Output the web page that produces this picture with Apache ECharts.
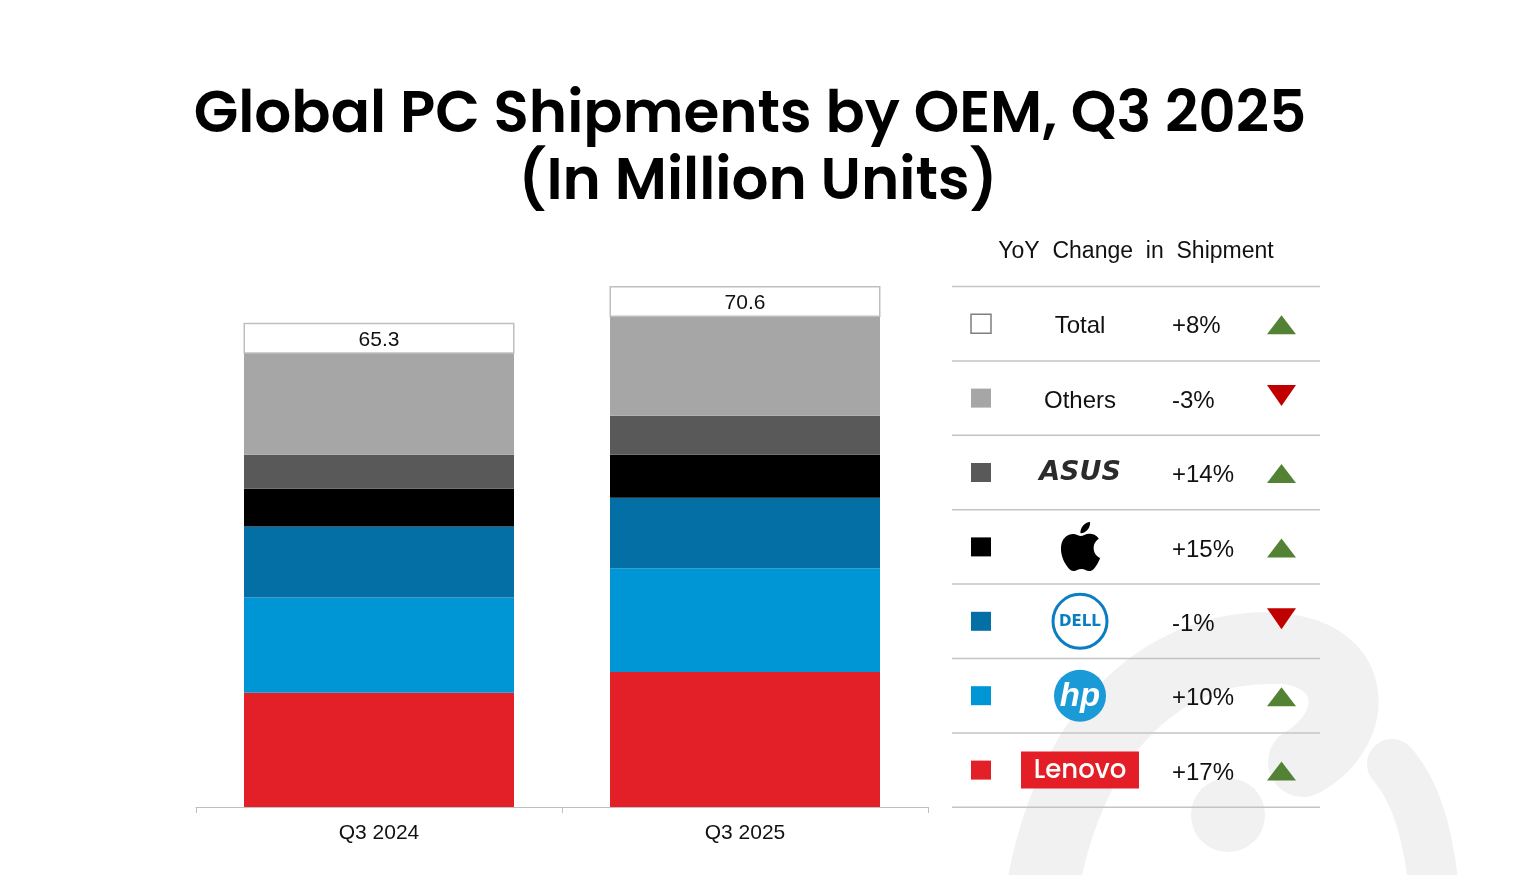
<!DOCTYPE html>
<html>
<head>
<meta charset="utf-8">
<title>Global PC Shipments by OEM, Q3 2025</title>
<script src="https://cdn.jsdelivr.net/npm/echarts@6/dist/echarts.min.js"></script>
<style>
  html, body { margin: 0; padding: 0; background: #fff; }
  #main { width: 1534px; height: 875px; }
</style>
</head>
<body>
<div id="main"></div>
<script>
// quarters on the x axis
var quarters = ['Q3 2024', 'Q3 2025'];
// shipments in million units, bottom of the stack first
var lenovo = [16.4, 19.4];
var hp = [13.7, 14.9];
var dell = [10.2, 10.1];
var apple = [5.4, 6.2];
var asus = [4.9, 5.6];
var others = [14.7, 14.4];
var totals = [65.3, 70.6];
// yoy table, top row first
var yoyNames = ['Total', 'Others', 'ASUS', 'Apple', 'Dell', 'HP', 'Lenovo'];
var yoyChange = [8, -3, 14, 15, -1, 10, 17];

var colors = {
  Lenovo: '#e32028',
  HP: '#0096d6',
  Dell: '#046fa5',
  Apple: '#000000',
  ASUS: '#595959',
  Others: '#a6a6a6',
  Total: '#ffffff'
};

var myChart = echarts.init(document.getElementById('main'));
var font = '"Liberation Sans", Arial, sans-serif';
var titleFont = 'Poppins, Inter, "Open Sans", sans-serif';

// apple logo outline (24x24 box), registered so the graphic component can use it
var applePath = 'M12.152 6.896c-.948 0-2.415-1.078-3.96-1.04-2.04.027-3.910 1.183-4.961 3.014-2.117 3.675-.546 9.103 1.519 12.09 1.013 1.454 2.208 3.09 3.792 3.039 1.52-.065 2.09-.987 3.935-.987 1.831 0 2.35.987 3.96.948 1.637-.026 2.676-1.48 3.676-2.948 1.156-1.688 1.636-3.325 1.662-3.415-.039-.013-3.182-1.221-3.22-4.857-.026-3.04 2.48-4.494 2.597-4.559-1.429-2.09-3.623-2.324-4.39-2.376-2-.156-3.675 1.09-4.61 1.09zM15.53 3.830c.843-1.012 1.4-2.427 1.245-3.83-1.207.052-2.662.805-3.532 1.818-.78.896-1.454 2.338-1.273 3.714 1.338.104 2.715-.688 3.559-1.701';
var hasApple = false;
try {
  echarts.graphic.registerShape('appleLogo', echarts.graphic.extendPath(applePath, {}));
  hasApple = true;
} catch (err) {
  hasApple = false;
}

function barSeries(name, values, isTop) {
  var s = {
    name: name,
    type: 'bar',
    stack: 'oem',
    barWidth: 270,
    itemStyle: { color: colors[name] },
    emphasis: { disabled: true },
    data: values
  };
  if (isTop) {
    // total box sitting on top of the stack
    s.label = {
      show: true,
      position: 'top',
      distance: 0,
      formatter: function(p) { return totals[p.dataIndex].toFixed(1); },
      width: 268,
      height: 28,
      lineHeight: 25,
      align: 'center',
      padding: 0,
      backgroundColor: '#fff',
      borderColor: '#bfbfbf',
      borderWidth: 1.5,
      color: '#111',
      fontSize: 21,
      fontFamily: font
    };
  }
  return s;
}

// table on the right
var rowTop = 286.5, rowH = 74.4;
var tableLeft = 952, tableRight = 1320;
var graphics = [];

// watermark in the corner
graphics.push({
  type: 'bezierCurve', z: 0, silent: true,
  shape: { x1: 1043, y1: 885, cpx1: 1075, cpy1: 720, cpx2: 1170, cpy2: 645, x2: 1275, y2: 648 },
  style: { fill: null, stroke: '#f1f1f1', lineWidth: 72, lineCap: 'round' }
});
graphics.push({
  type: 'bezierCurve', z: 0, silent: true,
  shape: { x1: 1275, y1: 648, cpx1: 1360, cpy1: 652, cpx2: 1362, cpy2: 728, x2: 1303, y2: 762 },
  style: { fill: null, stroke: '#f1f1f1', lineWidth: 70, lineCap: 'round' }
});
graphics.push({
  type: 'circle', z: 0, silent: true,
  shape: { cx: 1228, cy: 815, r: 37 },
  style: { fill: '#f1f1f1' }
});
graphics.push({
  type: 'bezierCurve', z: 0, silent: true,
  shape: { x1: 1392, y1: 764, cpx1: 1415, cpy1: 790, cpx2: 1428, cpy2: 830, x2: 1434, y2: 890 },
  style: { fill: null, stroke: '#f1f1f1', lineWidth: 50, lineCap: 'round' }
});

graphics.push({
  type: 'text', z: 10,
  style: {
    x: 1136, y: 252, text: 'YoY  Change  in  Shipment',
    align: 'center', verticalAlign: 'middle',
    font: '23px ' + font, fill: '#111'
  }
});

for (var i = 0; i <= yoyNames.length; i++) {
  graphics.push({
    type: 'line', z: 10, silent: true,
    shape: { x1: tableLeft, y1: rowTop + i * rowH, x2: tableRight, y2: rowTop + i * rowH },
    style: { stroke: '#c4c4c4', lineWidth: 1.5 }
  });
}

function logo(name, cx, cy) {
  var out = [];
  if (name === 'Total' || name === 'Others') {
    out.push({ type: 'text', z: 10, style: { x: cx, y: cy + 3, text: name, align: 'center', verticalAlign: 'middle', font: '24px ' + font, fill: '#111' } });
  } else if (name === 'ASUS') {
    out.push({ type: 'text', z: 10, style: { x: cx, y: cy, text: 'ASUS', align: 'center', verticalAlign: 'middle', font: 'italic 900 27px "DejaVu Sans", sans-serif', fill: '#2b2b2b' } });
  } else if (name === 'Apple') {
    if (hasApple) {
      out.push({
        type: 'appleLogo', z: 10,
        x: cx - 23.5, y: cy - 25, scaleX: 2.0, scaleY: 2.05,
        style: { fill: '#000' }
      });
    } else {
      out.push({ type: 'text', z: 10, style: { x: cx, y: cy, text: 'Apple', align: 'center', verticalAlign: 'middle', font: '24px ' + font, fill: '#000' } });
    }
  } else if (name === 'Dell') {
    out.push({ type: 'circle', z: 10, shape: { cx: cx, cy: cy, r: 27 }, style: { fill: '#fff', stroke: '#0a7ec1', lineWidth: 3 } });
    out.push({ type: 'text', z: 11, style: { x: cx, y: cy + 1, text: 'DELL', align: 'center', verticalAlign: 'middle', font: '900 15px "DejaVu Sans", sans-serif', fill: '#0a7ec1' } });
  } else if (name === 'HP') {
    out.push({ type: 'circle', z: 10, shape: { cx: cx, cy: cy, r: 26 }, style: { fill: '#1b9ad8' } });
    out.push({ type: 'text', z: 11, style: { x: cx, y: cy + 1, text: 'hp', align: 'center', verticalAlign: 'middle', font: 'italic 700 33px "Liberation Sans", sans-serif', fill: '#fff' } });
  } else if (name === 'Lenovo') {
    out.push({ type: 'rect', z: 10, shape: { x: cx - 59, y: cy - 18.5, width: 118, height: 37 }, style: { fill: '#e41e26' } });
    out.push({ type: 'text', z: 11, style: { x: cx, y: cy + 1, text: 'Lenovo', align: 'center', verticalAlign: 'middle', font: '500 26px Poppins, Lato, sans-serif', fill: '#fff' } });
  }
  return out;
}

yoyNames.forEach(function(name, i) {
  var cy = rowTop + (i + 0.5) * rowH;
  // swatch
  graphics.push({
    type: 'rect', z: 10,
    shape: { x: 971, y: cy - 9.5, width: 20, height: 19 },
    style: name === 'Total'
      ? { fill: '#fff', stroke: '#7f7f7f', lineWidth: 1.5 }
      : { fill: colors[name] }
  });
  graphics = graphics.concat(logo(name, 1080, cy));
  var v = yoyChange[i];
  graphics.push({
    type: 'text', z: 10,
    style: {
      x: 1172, y: cy + 3, text: (v > 0 ? '+' : '') + v + '%',
      align: 'left', verticalAlign: 'middle', font: '24px ' + font, fill: '#111'
    }
  });
  // up / down arrow
  var up = v > 0;
  graphics.push({
    type: 'polygon', z: 10,
    shape: {
      points: up
        ? [[1267, cy + 10.5], [1296, cy + 10.5], [1281.5, cy - 8.5]]
        : [[1267, cy - 13], [1296, cy - 13], [1281.5, cy + 8]]
    },
    style: { fill: up ? '#548235' : '#c00000' }
  });
});

var titleStyle = {
  fontFamily: titleFont,
  fontWeight: 600,
  fontSize: 58,
  lineHeight: 67,
  color: '#000'
};

var option = {
  backgroundColor: '#ffffff',
  animation: false,
  title: [{
    text: 'Global PC Shipments by OEM, Q3 2025',
    left: 745,
    textAlign: 'center',
    top: 79,
    textStyle: titleStyle
  }, {
    text: '(In Million Units)',
    left: 753,
    textAlign: 'center',
    top: 146,
    textStyle: titleStyle
  }],
  grid: { left: 196, right: 606, top: 250, bottom: 68 },
  xAxis: {
    type: 'category',
    data: quarters,
    axisLine: { lineStyle: { color: '#bfbfbf', width: 1.2 } },
    axisTick: { show: true, length: 6, lineStyle: { color: '#bfbfbf' } },
    axisLabel: { color: '#111', fontSize: 21, fontFamily: font, margin: 16 }
  },
  yAxis: {
    type: 'value', min: 0, max: 80, show: false,
    splitLine: { show: false }
  },
  series: [
    barSeries('Lenovo', lenovo),
    barSeries('HP', hp),
    barSeries('Dell', dell),
    barSeries('Apple', apple),
    barSeries('ASUS', asus),
    barSeries('Others', others, true)
  ],
  graphic: graphics
};

myChart.setOption(option);
</script>
</body>
</html>
